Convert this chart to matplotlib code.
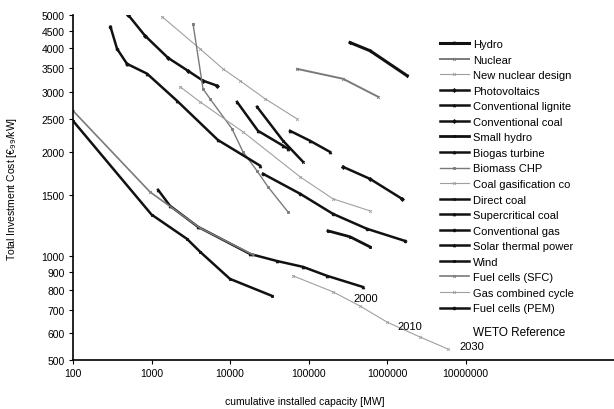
import matplotlib
matplotlib.use('Agg')
import matplotlib.pyplot as plt
from matplotlib.ticker import FixedLocator, NullLocator, FixedFormatter

plt.rcParams['font.family'] = ['Liberation Sans', 'DejaVu Sans']

# learning curves: capacity [MW], cost [EUR99/kW]
hydro_x = [338000, 607000, 1800000]
hydro_y = [4160, 3940, 3335]
nuclear_x = [71400, 275000, 768000]
nuclear_y = [3490, 3267, 2898]
new_nuclear_x = [1361, 4150, 8140, 13400, 27900, 71400]
new_nuclear_y = [4945, 3990, 3490, 3225, 2860, 2500]
pv_x = [502, 826, 1622, 2917, 4529, 6827]
pv_y = [5010, 4355, 3757, 3445, 3225, 3120]
lignite_x = [58100, 104500, 188000]
lignite_y = [2308, 2160, 2005]
coal_x = [275000, 607000, 1553000]
coal_y = [1815, 1675, 1466]
small_hydro_x = [177000, 338000, 607000]
small_hydro_y = [1184, 1138, 1064]
biogas_x = [12280, 22730, 47350, 54800]
biogas_y = [2800, 2308, 2090, 2047]
biomass_x = [3378, 4529, 5560, 10600, 14650, 22080, 30480, 54800]
biomass_y = [4720, 3055, 2860, 2340, 2005, 1767, 1588, 1343]
coal_gas_x = [2307, 4150, 14650, 78000, 205000, 607000]
coal_gas_y = [3098, 2800, 2292, 1698, 1466, 1353]
direct_coal_x = [22080, 47350, 85100]
direct_coal_y = [2710, 2160, 1877]
supercrit_x = [1211, 1721, 3910, 17980, 39700, 85100, 172000, 494000]
supercrit_y = [1557, 1399, 1216, 1015, 968, 931, 877, 814]
conv_gas_x = [26300, 78000, 205000, 556000, 1695000]
conv_gas_y = [1733, 1517, 1326, 1200, 1107]
solar_x = [487, 877, 2113, 7030, 24100]
solar_y = [3610, 3380, 2820, 2170, 1830]
wind_x = [100, 1000, 2832, 4150, 10000, 34300]
wind_y = [2467, 1320, 1122, 1030, 859, 767]
sfc_x = [100, 957, 4150, 19640]
sfc_y = [2639, 1535, 1207, 1009]
gas_cc_x = [63500, 205000, 453000, 1000000, 2630000, 5980000]
gas_cc_y = [877, 788, 717, 644, 583, 538]
pem_x = [300, 364, 487]
pem_y = [4625, 3990, 3610]

years = ['2000', '2010', '2030']
year_x = [540000, 1960000, 12100000]
year_y = [757, 627, 549]

BK = '#111111'
GR = '#7a7a7a'
LG = '#a0a0a0'

series = [
    ('Hydro', hydro_x, hydro_y, BK, 2.2, 'v'),
    ('Nuclear', nuclear_x, nuclear_y, GR, 1.4, 'x'),
    ('New nuclear design', new_nuclear_x, new_nuclear_y, LG, 0.8, 'x'),
    ('Photovoltaics', pv_x, pv_y, BK, 1.8, 'D'),
    ('Conventional lignite', lignite_x, lignite_y, BK, 1.8, '^'),
    ('Conventional coal', coal_x, coal_y, BK, 1.8, 'D'),
    ('Small hydro', small_hydro_x, small_hydro_y, BK, 2.0, 's'),
    ('Biogas turbine', biogas_x, biogas_y, BK, 1.8, '^'),
    ('Biomass CHP', biomass_x, biomass_y, GR, 1.0, 's'),
    ('Coal gasification co', coal_gas_x, coal_gas_y, LG, 0.8, 'x'),
    ('Direct coal', direct_coal_x, direct_coal_y, BK, 1.8, 'x'),
    ('Supercritical coal', supercrit_x, supercrit_y, BK, 1.8, '^'),
    ('Conventional gas', conv_gas_x, conv_gas_y, BK, 1.8, 'o'),
    ('Solar thermal power', solar_x, solar_y, BK, 1.8, '^'),
    ('Wind', wind_x, wind_y, BK, 1.8, 's'),
    ('Fuel cells (SFC)', sfc_x, sfc_y, GR, 1.2, 'x'),
    ('Gas combined cycle', gas_cc_x, gas_cc_y, LG, 0.8, 'x'),
    ('Fuel cells (PEM)', pem_x, pem_y, BK, 1.8, 'o'),
]

fig = plt.figure(figsize=(6.14, 4.10), dpi=100)
ax = fig.add_axes([73 / 614, 49 / 410, 541 / 614, 345 / 410])

handles = []
for name, xs, ys, col, lw, mk in series:
    h, = ax.plot(xs, ys, color=col, lw=lw, marker=mk, ms=2, mew=0.6,
                 mfc=col, mec=col, label=name)
    handles.append(h)

for t, xv, yv in zip(years, year_x, year_y):
    ax.text(xv, yv, t, fontsize=8, ha='center', va='center')

ax.set_xscale('log')
ax.set_yscale('log')
ax.set_xlim(100, 10 ** (2 + 541 / 78.5))
ax.set_ylim(500, 5000)

xt = [100, 1000, 10000, 100000, 1000000, 10000000]
ax.xaxis.set_major_locator(FixedLocator(xt))
ax.xaxis.set_major_formatter(FixedFormatter([str(v) for v in xt]))
ax.xaxis.set_minor_locator(NullLocator())
yt = [500, 600, 700, 800, 900, 1000, 1500, 2000, 2500, 3000, 3500, 4000, 4500, 5000]
ax.yaxis.set_major_locator(FixedLocator(yt))
ax.yaxis.set_major_formatter(FixedFormatter([str(v) for v in yt]))
ax.yaxis.set_minor_locator(NullLocator())
ax.tick_params(labelsize=7.5, length=3, width=0.8, pad=3)

ax.spines['top'].set_visible(False)
ax.spines['right'].set_visible(False)
ax.spines['left'].set_linewidth(1.2)
ax.spines['bottom'].set_linewidth(1.2)

ax.set_xlabel('cumulative installed capacity [MW]', fontsize=7.5)
ax.xaxis.set_label_coords((305 - 73) / 541, -0.105)
ax.set_ylabel('Total Investment Cost [€$_{99}$/kW]', fontsize=7.5)
ax.yaxis.set_label_coords(-0.100, 0.5)

leg = fig.legend(handles=handles, loc='upper left', bbox_to_anchor=(440 / 614, 1 - 40 / 410),
                 frameon=False, fontsize=8, handlelength=2.6, handletextpad=0.4,
                 labelspacing=0.5, borderpad=0, borderaxespad=0, markerscale=1.0)

fig.text(473 / 614, 1 - 333 / 410, 'WETO Reference', fontsize=8.5, ha='left', va='center')

fig.savefig('out.png', dpi=100)
